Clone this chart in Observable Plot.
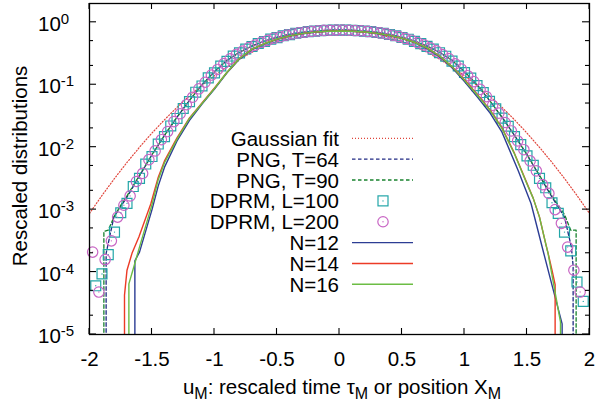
<!DOCTYPE html>
<html><head><meta charset="utf-8">
<script src="https://cdn.jsdelivr.net/npm/d3@7"></script>
<script src="https://cdn.jsdelivr.net/npm/@observablehq/plot@0.6"></script>
<style>body{margin:0;background:#fff} svg{display:block}</style>
</head><body><div id="chart"></div>
<script>
// ---------- data (y values stored as log10 of the density) ----------
const xTicks = [-2, -1.5, -1, -0.5, 0, 0.5, 1, 1.5, 2];
const yMajor = [1e-5, 1e-4, 1e-3, 1e-2, 1e-1, 1];
const yMinor = [2e-5, 5e-5, 2e-4, 5e-4, 2e-3, 5e-3, 2e-2, 5e-2, 2e-1, 5e-1];

const gaussX = [-2,-1.9,-1.8,-1.7,-1.6,-1.5,-1.4,-1.3,-1.2,-1.1,-1,-0.9,-0.8,-0.7,-0.6,-0.5,-0.4,-0.3,-0.2,-0.1,0,0.1,0.2,0.3,0.4,0.5,0.6,0.7,0.8,0.9,1,1.1,1.2,1.3,1.4,1.5,1.6,1.7,1.8,1.9,2];
const gaussY = [0.000871,0.001685,0.003151,0.0057,0.009963,0.01684,0.0275,0.04343,0.0663,0.0979,0.1396,0.1926,0.2568,0.331,0.4124,0.4969,0.5785,0.6513,0.7088,0.7459,0.7586,0.7459,0.7088,0.6513,0.5785,0.4969,0.4124,0.331,0.2568,0.1926,0.1396,0.0979,0.0663,0.04343,0.0275,0.01684,0.009963,0.0057,0.003151,0.001685,0.000871];

const png64X = [-1.867,-1.867,-1.805,-1.75,-1.7,-1.6,-1.5,-1.4,-1.3,-1.2,-1.1,-1,-0.9,-0.8,-0.7,-0.6,-0.5,-0.4,-0.3,-0.2,-0.1,0,0.1,0.2,0.3,0.4,0.5,0.6,0.7,0.8,0.9,1,1.1,1.2,1.3,1.4,1.5,1.6,1.7,1.75,1.8,1.855,1.869,1.869];
const png64Log = [-9,-3.70,-3.12,-2.95,-2.80,-2.46,-2.12,-1.81,-1.52,-1.25,-1.0,-0.79,-0.61,-0.48,-0.38,-0.30,-0.24,-0.193,-0.16,-0.14,-0.128,-0.124,-0.128,-0.14,-0.16,-0.193,-0.24,-0.30,-0.38,-0.48,-0.61,-0.79,-1.0,-1.25,-1.52,-1.81,-2.12,-2.46,-2.80,-2.96,-3.12,-3.6,-3.9,-9];

const png90X = [-1.885,-1.885,-1.85,-1.8,-1.75,-1.7,-1.6,-1.5,-1.4,-1.3,-1.2,-1.1,-1,-0.9,-0.8,-0.7,-0.6,-0.5,-0.4,-0.3,-0.2,-0.1,0,0.1,0.2,0.3,0.4,0.5,0.6,0.7,0.8,0.9,1,1.1,1.2,1.3,1.4,1.5,1.6,1.7,1.75,1.8,1.85,1.893,1.893];
const png90Log = [-9,-3.35,-3.33,-3.10,-2.93,-2.78,-2.45,-2.12,-1.81,-1.52,-1.25,-1.0,-0.79,-0.61,-0.48,-0.38,-0.30,-0.24,-0.193,-0.16,-0.14,-0.128,-0.124,-0.128,-0.14,-0.16,-0.193,-0.24,-0.30,-0.38,-0.48,-0.61,-0.79,-1.0,-1.25,-1.52,-1.81,-2.12,-2.45,-2.78,-2.93,-3.08,-3.33,-3.33,-9];

const dprm100X = [-1.95,-1.9,-1.85,-1.8,-1.75,-1.7,-1.65,-1.6,-1.55,-1.5,-1.45,-1.4,-1.35,-1.3,-1.25,-1.2,-1.15,-1.1,-1.05,-1,-0.95,-0.9,-0.85,-0.8,-0.75,-0.7,-0.65,-0.6,-0.55,-0.5,-0.45,-0.4,-0.35,-0.3,-0.25,-0.2,-0.15,-0.1,-0.05,0,0.05,0.1,0.15,0.2,0.25,0.3,0.35,0.4,0.45,0.5,0.55,0.6,0.65,0.7,0.75,0.8,0.85,0.9,0.95,1,1.05,1.1,1.15,1.2,1.25,1.3,1.35,1.4,1.45,1.5,1.55,1.6,1.65,1.7,1.75,1.8,1.85,1.9,1.95];
const dprm100Log = [-4.22,-4.03,-3.72,-3.36,-3.05,-2.90,-2.63,-2.50,-2.27,-2.15,-1.95,-1.83,-1.66,-1.54,-1.38,-1.27,-1.12,-1.02,-0.89,-0.81,-0.70,-0.625,-0.54,-0.49,-0.428,-0.388,-0.34,-0.307,-0.27,-0.245,-0.215,-0.197,-0.176,-0.163,-0.149,-0.142,-0.133,-0.130,-0.125,-0.126,-0.125,-0.130,-0.133,-0.142,-0.149,-0.163,-0.176,-0.196,-0.216,-0.244,-0.271,-0.306,-0.341,-0.386,-0.43,-0.487,-0.543,-0.622,-0.70,-0.805,-0.895,-1.015,-1.125,-1.265,-1.385,-1.535,-1.665,-1.83,-1.96,-2.14,-2.29,-2.50,-2.65,-2.89,-3.06,-3.36,-3.66,-4.16,-4.47];

const dprm200X = [-1.975,-1.925,-1.875,-1.825,-1.775,-1.725,-1.675,-1.625,-1.575,-1.525,-1.475,-1.425,-1.375,-1.325,-1.275,-1.225,-1.175,-1.125,-1.075,-1.025,-0.975,-0.925,-0.875,-0.825,-0.775,-0.725,-0.675,-0.625,-0.575,-0.525,-0.475,-0.425,-0.375,-0.325,-0.275,-0.225,-0.175,-0.125,-0.075,-0.025,0.025,0.075,0.125,0.175,0.225,0.275,0.325,0.375,0.425,0.475,0.525,0.575,0.625,0.675,0.725,0.775,0.825,0.875,0.925,0.975,1.025,1.075,1.125,1.175,1.225,1.275,1.325,1.375,1.425,1.475,1.525,1.575,1.625,1.675,1.725,1.775,1.825,1.875,1.925];
const dprm200Log = [-3.68,-4.32,-3.80,-3.50,-3.12,-2.93,-2.78,-2.55,-2.42,-2.20,-2.06,-1.88,-1.75,-1.59,-1.465,-1.32,-1.20,-1.065,-0.96,-0.845,-0.755,-0.66,-0.585,-0.512,-0.46,-0.405,-0.365,-0.32,-0.29,-0.255,-0.232,-0.205,-0.187,-0.168,-0.157,-0.144,-0.138,-0.130,-0.128,-0.125,-0.126,-0.127,-0.132,-0.136,-0.146,-0.155,-0.170,-0.185,-0.207,-0.229,-0.258,-0.287,-0.324,-0.362,-0.41,-0.456,-0.517,-0.58,-0.665,-0.75,-0.855,-0.95,-1.075,-1.19,-1.33,-1.455,-1.605,-1.74,-1.90,-2.04,-2.22,-2.38,-2.60,-2.74,-3.00,-3.22,-3.60,-3.97,-4.32];

const n12X = [-1.637,-1.637,-1.6,-1.55,-1.5,-1.45,-1.4,-1.3,-1.2,-1.1,-1,-0.9,-0.8,-0.7,-0.6,-0.5,-0.4,-0.3,-0.2,-0.1,0,0.1,0.2,0.3,0.4,0.5,0.6,0.7,0.8,0.9,1,1.1,1.2,1.3,1.43,1.533,1.635,1.7,1.781,1.781];
const n12Log = [-9,-3.82,-3.68,-3.34,-3.0,-2.62,-2.32,-1.90,-1.57,-1.31,-1.07,-0.81,-0.59,-0.435,-0.345,-0.272,-0.22,-0.183,-0.159,-0.144,-0.141,-0.144,-0.156,-0.179,-0.213,-0.262,-0.326,-0.42,-0.55,-0.725,-0.95,-1.19,-1.44,-1.76,-2.376,-2.906,-3.706,-4.21,-4.83,-9];

const n14X = [-1.72,-1.72,-1.7,-1.66,-1.605,-1.51,-1.45,-1.4,-1.3,-1.2,-1.1,-1,-0.9,-0.8,-0.7,-0.6,-0.5,-0.4,-0.3,-0.2,-0.1,0,0.1,0.2,0.3,0.4,0.5,0.6,0.7,0.8,0.9,1,1.1,1.2,1.3,1.4,1.5,1.55,1.6,1.65,1.669,1.7,1.725,1.725];
const n14Log = [-9,-4.37,-3.97,-3.70,-3.44,-2.91,-2.48,-2.22,-1.85,-1.53,-1.29,-1.05,-0.80,-0.58,-0.43,-0.34,-0.27,-0.218,-0.182,-0.158,-0.143,-0.14,-0.143,-0.155,-0.177,-0.21,-0.258,-0.32,-0.41,-0.54,-0.71,-0.92,-1.15,-1.39,-1.69,-2.10,-2.58,-2.82,-3.12,-3.55,-3.70,-3.97,-4.2,-9];

const n16X = [-1.685,-1.685,-1.64,-1.6,-1.55,-1.5,-1.45,-1.4,-1.3,-1.2,-1.1,-1,-0.9,-0.8,-0.7,-0.6,-0.5,-0.4,-0.3,-0.2,-0.1,0,0.1,0.2,0.3,0.4,0.5,0.6,0.7,0.8,0.9,1,1.1,1.2,1.3,1.4,1.5,1.55,1.6,1.65,1.669,1.7,1.768,1.768];
const n16Log = [-9,-4.19,-3.88,-3.60,-3.26,-2.92,-2.52,-2.25,-1.87,-1.54,-1.30,-1.06,-0.80,-0.58,-0.43,-0.34,-0.27,-0.218,-0.182,-0.158,-0.143,-0.14,-0.143,-0.155,-0.177,-0.21,-0.258,-0.32,-0.41,-0.54,-0.71,-0.93,-1.16,-1.40,-1.70,-2.11,-2.59,-2.82,-3.12,-3.55,-3.706,-4.05,-4.8,-9];

const legendLabels = ["Gaussian fit","PNG, T=64","PNG, T=90","DPRM, L=100","DPRM, L=200","N=12","N=14","N=16"];

// ---------- styling ----------
const COL = {gauss:"#e0443a", png64:"#202a84", png90:"#18822e", sq:"#22a6a8", ci:"#c865c4", n12:"#2c3d94", n14:"#ec3b26", n16:"#6cbd44"};
const FONT = "'Liberation Sans', Arial, Helvetica, sans-serif";
const FS = 20.5;

const rowsLog = (xs, ls) => xs.map((x, i) => ({x, y: Math.pow(10, ls[i])}));
const rowsLin = (xs, ys) => xs.map((x, i) => ({x, y: ys[i]}));

const gauss = rowsLin(gaussX, gaussY);
const png64 = rowsLog(png64X, png64Log);
const png90 = rowsLog(png90X, png90Log);
const sq = rowsLog(dprm100X, dprm100Log);
const ci = rowsLog(dprm200X, dprm200Log);
const n12 = rowsLog(n12X, n12Log);
const n14 = rowsLog(n14X, n14Log);
const n16 = rowsLog(n16X, n16Log);

const plot = Plot.plot({
  width: 597, height: 405,
  marginLeft: 89, marginRight: 8, marginTop: 3, marginBottom: 71,
  style: {fontFamily: FONT, fontSize: FS + "px", background: "#fff", color: "#000", overflow: "visible"},
  x: {domain: [-2, 2]},
  y: {type: "log", domain: [1e-5, 2], axis: null},
  marks: [
    Plot.line(gauss, {x: "x", y: "y", stroke: COL.gauss, strokeWidth: 1.2, strokeDasharray: "1,2", clip: true}),
    Plot.line(png64, {x: "x", y: "y", stroke: COL.png64, strokeWidth: 1.3, strokeDasharray: "3.5,2.5", clip: true}),
    Plot.line(png90, {x: "x", y: "y", stroke: COL.png90, strokeWidth: 1.3, strokeDasharray: "3.5,2.5", clip: true}),
    Plot.dot(sq, {x: "x", y: "y", symbol: "square", r: 5.6, stroke: COL.sq, fill: "none", strokeWidth: 1.2}),
    Plot.dot(sq, {x: "x", y: "y", r: 0.7, fill: COL.sq, stroke: "none"}),
    Plot.dot(ci, {x: "x", y: "y", symbol: "circle", r: 5.2, stroke: COL.ci, fill: "none", strokeWidth: 1.2}),
    Plot.dot(ci, {x: "x", y: "y", r: 0.7, fill: COL.ci, stroke: "none"}),
    Plot.line(n12, {x: "x", y: "y", stroke: COL.n12, strokeWidth: 1.4, clip: true}),
    Plot.line(n14, {x: "x", y: "y", stroke: COL.n14, strokeWidth: 1.4, clip: true}),
    Plot.line(n16, {x: "x", y: "y", stroke: COL.n16, strokeWidth: 1.4, clip: true}),
    Plot.axisX({ticks: xTicks, tickSize: 0, tickPadding: 17, tickFormat: d => String(d), label: null, fontSize: FS}),
    Plot.frame({stroke: "#000", strokeWidth: 1.3})
  ]
});
document.getElementById("chart").appendChild(plot);

// ---------- gnuplot-style decorations placed with the plot's own scales ----------
const svg = d3.select(plot);
const scX = plot.scale("x"), scY = plot.scale("y");
const X = scX.apply ? (v => scX.apply(v)) : d3.scaleLinear(scX.domain, scX.range);
const Y = scY.apply ? (v => scY.apply(v)) : d3.scaleLog(scY.domain, scY.range);
const fL = X(-2), fR = X(2), fB = Y(1e-5), fT = Y(2);

const g = svg.append("g").attr("stroke", "#000").attr("stroke-width", 1.1);
for (const v of xTicks) {
  g.append("line").attr("x1", X(v)).attr("x2", X(v)).attr("y1", fB).attr("y2", fB - 6);
  g.append("line").attr("x1", X(v)).attr("x2", X(v)).attr("y1", fT).attr("y2", fT + 6);
}
for (const v of yMajor) {
  g.append("line").attr("x1", fL).attr("x2", fL + 7).attr("y1", Y(v)).attr("y2", Y(v));
  g.append("line").attr("x1", fR).attr("x2", fR - 7).attr("y1", Y(v)).attr("y2", Y(v));
}
for (const v of yMinor) {
  g.append("line").attr("x1", fL).attr("x2", fL + 4).attr("y1", Y(v)).attr("y2", Y(v));
  g.append("line").attr("x1", fR).attr("x2", fR - 4).attr("y1", Y(v)).attr("y2", Y(v));
}

// y tick labels as 10^n with superscripts
const yl = svg.append("g").attr("font-family", FONT).attr("font-size", FS).attr("fill", "#000").attr("text-anchor", "start");
for (const v of yMajor) {
  const t = yl.append("text").attr("x", 38).attr("y", Y(v) + 9).attr("text-anchor", "start");
  t.append("tspan").text("10");
  t.append("tspan").attr("dy", -7).attr("font-size", 15).text(String(Math.round(Math.log10(v))));
}

// axis titles
const xt = svg.append("text").attr("x", 342).attr("y", 394).attr("text-anchor", "middle")
  .attr("font-family", FONT).attr("font-size", FS).attr("fill", "#000");
const sub = (s) => xt.append("tspan").attr("dy", 5).attr("font-size", 16).text(s);
const norm = (s) => xt.append("tspan").attr("dy", -5).text(s);
xt.append("tspan").text("u"); sub("M"); norm(": rescaled time \u03C4"); sub("M"); norm(" or position X"); sub("M");

svg.append("text").attr("transform", "translate(27,166) rotate(-90)").attr("text-anchor", "middle")
  .attr("font-family", FONT).attr("font-size", FS).attr("fill", "#000").text("Rescaled distributions");

// legend
const lg = svg.append("g").attr("font-family", FONT).attr("font-size", FS);
const styles = [
  {c: COL.gauss, dash: "1,2"}, {c: COL.png64, dash: "3.5,2.5"}, {c: COL.png90, dash: "3.5,2.5"},
  {c: COL.sq, sym: "square"}, {c: COL.ci, sym: "circle"},
  {c: COL.n12}, {c: COL.n14}, {c: COL.n16}
];
legendLabels.forEach((lab, i) => {
  const yy = 138.3 + i * 20.86;
  lg.append("text").attr("x", 339).attr("y", yy + 7.5).attr("text-anchor", "end").attr("fill", "#000").text(lab);
  const s = styles[i];
  if (s.sym === "square") {
    lg.append("rect").attr("x", 383 - 5).attr("y", yy - 5).attr("width", 10).attr("height", 10).attr("fill", "none").attr("stroke", s.c).attr("stroke-width", 1.2);
    lg.append("circle").attr("cx", 383).attr("cy", yy).attr("r", 0.7).attr("fill", s.c);
  } else if (s.sym === "circle") {
    lg.append("circle").attr("cx", 383).attr("cy", yy).attr("r", 5.2).attr("fill", "none").attr("stroke", s.c).attr("stroke-width", 1.2);
    lg.append("circle").attr("cx", 383).attr("cy", yy).attr("r", 0.7).attr("fill", s.c);
  } else {
    lg.append("line").attr("x1", 352).attr("x2", 413).attr("y1", yy).attr("y2", yy).attr("stroke", s.c)
      .attr("stroke-width", s.dash ? 1.3 : 1.4).attr("stroke-dasharray", s.dash || null);
  }
});
</script>
</body></html>
